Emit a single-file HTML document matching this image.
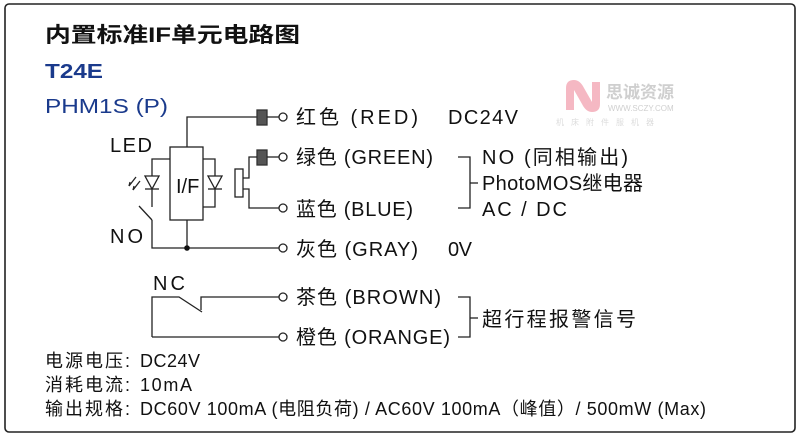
<!DOCTYPE html>
<html><head><meta charset="utf-8"><style>
html,body{margin:0;padding:0;background:#fff}
svg{display:block}
text{font-family:"Liberation Sans","Noto Sans CJK SC",sans-serif;fill:#111}
</style></head><body>
<svg width="800" height="438" viewBox="0 0 800 438" xmlns="http://www.w3.org/2000/svg">
<rect x="5" y="4" width="790" height="428" rx="4" fill="none" stroke="#222" stroke-width="1.6"/>
<text x="45" y="42" font-size="21" font-weight="bold" textLength="255" lengthAdjust="spacingAndGlyphs">内置标准IF单元电路图</text>
<text x="45" y="78" font-size="20" font-weight="bold" style="fill:#1a3a8c" textLength="58" lengthAdjust="spacingAndGlyphs">T24E</text>
<text x="45" y="113" font-size="20" style="fill:#1a3a8c" textLength="123" lengthAdjust="spacingAndGlyphs">PHM1S (P)</text>

<g opacity="0.4">
<path d="M566 110 L566 88 Q566 80 574 80 Q580 80 584 88 L592 102 L592 82 L600 82 L600 104 Q600 112 592 112 Q586 112 582 104 L574 90 L574 110 Z" fill="#e8506a"/>
<text x="606" y="98" font-size="17" font-weight="bold" style="fill:#888">思诚资源</text>
<text x="608" y="111" font-size="8" style="fill:#888">WWW.SCZY.COM</text>
<text x="556" y="125" font-size="8" letter-spacing="7" style="fill:#aaa">机床附件服机器</text>
</g>

<g stroke="#222" stroke-width="1.3" fill="none">
<polyline points="187,147 187,117 257,117"/>
<rect x="257" y="110" width="10" height="15" fill="#555" stroke="#333"/>
<line x1="267" y1="117" x2="279" y2="117"/>
<circle cx="283" cy="117" r="4" fill="#fff"/>
<rect x="170" y="147" width="33" height="73" fill="#fff"/>
<rect x="257" y="150" width="10" height="15" fill="#555" stroke="#333"/>
<line x1="267" y1="157" x2="279" y2="157"/>
<circle cx="283" cy="157" r="4" fill="#fff"/>
<polyline points="257,157 249,157 249,178 243,178"/>
<rect x="235" y="169" width="8" height="28" fill="#fff"/>
<polyline points="243,189 249,189 249,208 279,208"/>
<circle cx="283" cy="208" r="4" fill="#fff"/>
<polyline points="152,220 152,248 279,248"/>
<line x1="187" y1="220" x2="187" y2="248"/>
<circle cx="283" cy="248" r="4" fill="#fff"/>
<polyline points="170,159 152,159 152,207"/>
<polygon points="145,176 159,176 152,189" fill="#fff"/>
<line x1="145" y1="189" x2="159" y2="189"/>
<line x1="152" y1="220" x2="139" y2="206"/>
<line x1="140" y1="181" x2="133" y2="190"/>
<line x1="136" y1="177" x2="129" y2="186"/>
<line x1="133" y1="190" x2="134" y2="186"/>
<line x1="129" y1="186" x2="130" y2="182"/>
<polyline points="203,159 215,159 215,207 203,207"/>
<polygon points="208,176 222,176 215,189" fill="#fff"/>
<line x1="208" y1="189" x2="222" y2="189"/>
<polyline points="458,157 470,157 470,208 458,208"/>
<line x1="470" y1="183" x2="478" y2="183"/>
<polyline points="152,337 152,297 179,297 202,312"/>
<polyline points="201,310 201,297 279,297"/>
<circle cx="283" cy="297" r="4" fill="#fff"/>
<line x1="152" y1="337" x2="279" y2="337"/>
<circle cx="283" cy="337" r="4" fill="#fff"/>
<polyline points="458,297 470,297 470,337 458,337"/>
<line x1="470" y1="318" x2="478" y2="318"/>
</g>
<circle cx="187" cy="248" r="2.8" fill="#111"/>
<text x="176" y="193" font-size="20">I/F</text>

<g font-size="20" lengthAdjust="spacingAndGlyphs">
<text x="110" y="152" textLength="42">LED</text>
<text x="110" y="243" textLength="33">NO</text>
<text x="153" y="290" textLength="32">NC</text>
<text x="296" y="124" textLength="122">红色 (RED)</text>
<text x="448" y="124" textLength="70">DC24V</text>
<text x="296" y="164" textLength="137">绿色 (GREEN)</text>
<text x="296" y="216" textLength="117">蓝色 (BLUE)</text>
<text x="296" y="256" textLength="122">灰色 (GRAY)</text>
<text x="448" y="256" textLength="24">0V</text>
<text x="482" y="164" textLength="146">NO (同相输出)</text>
<text x="482" y="190" textLength="161">PhotoMOS继电器</text>
<text x="482" y="216" textLength="85">AC / DC</text>
<text x="296" y="304" textLength="145">茶色 (BROWN)</text>
<text x="296" y="344" textLength="154">橙色 (ORANGE)</text>
<text x="482" y="326" textLength="154">超行程报警信号</text>
</g>
<g font-size="18" lengthAdjust="spacingAndGlyphs">
<text x="45" y="367" textLength="85">电源电压:</text><text x="140" y="367" textLength="60">DC24V</text>
<text x="45" y="391" textLength="85">消耗电流:</text><text x="140" y="391" textLength="52">10mA</text>
<text x="45" y="415" textLength="85">输出规格:</text><text x="140" y="415" textLength="566">DC60V 100mA (电阻负荷) / AC60V 100mA（峰值）/ 500mW (Max)</text>
</g>
</svg>
</body></html>
